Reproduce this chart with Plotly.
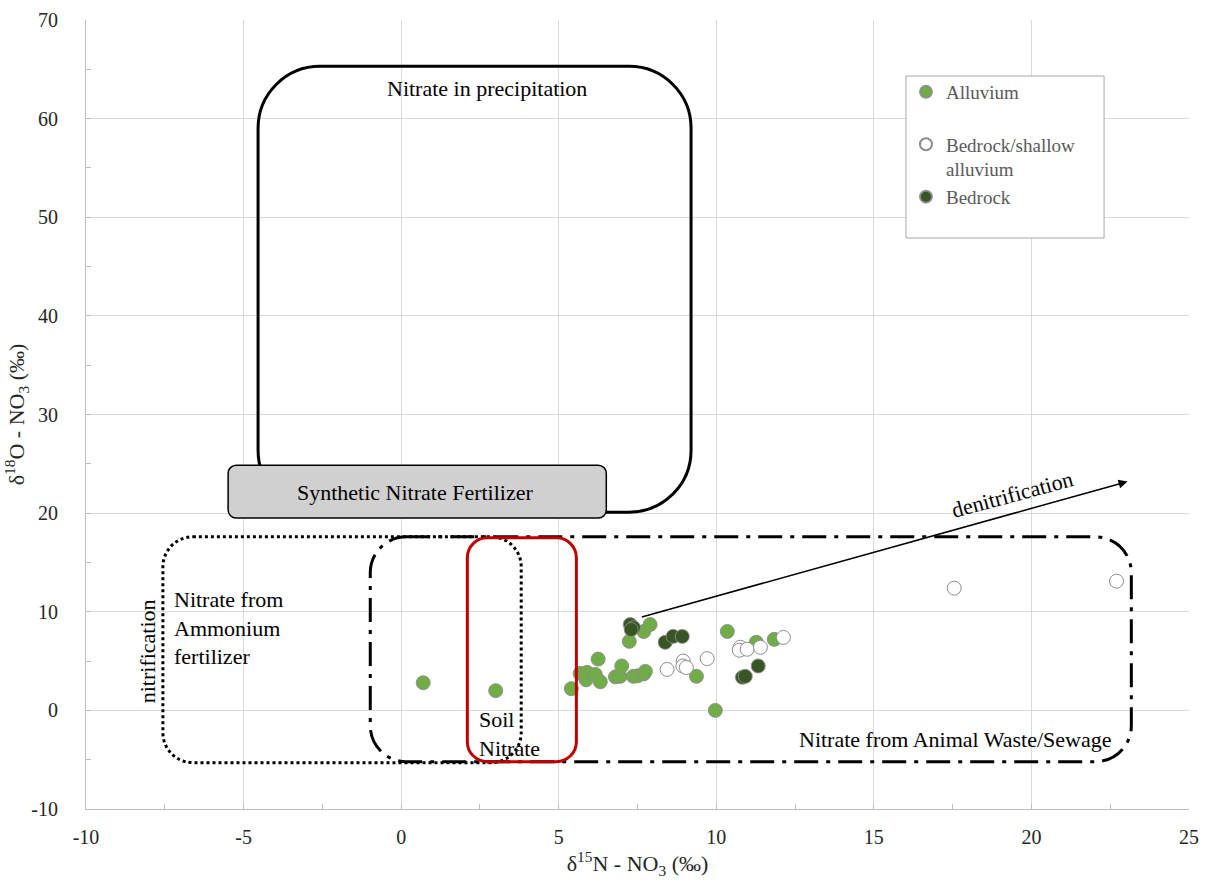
import plotly.graph_objects as go

# ---- sample data: delta15N / delta18O of nitrate (permil) ----
alluvium_n = [0.7, 3.0, 5.4, 5.68, 5.87, 5.9, 6.16, 6.25, 6.32, 6.8, 6.95, 7.0, 7.24,
              7.37, 7.5, 7.7, 7.75, 7.7, 7.9, 9.37, 9.97, 10.35, 11.27, 11.84]
alluvium_o = [2.8, 2.0, 2.2, 3.75, 3.1, 3.85, 3.65, 5.2, 2.9, 3.4, 3.45, 4.5, 7.0,
              3.45, 3.5, 3.7, 3.95, 8.0, 8.7, 3.45, 0.0, 8.0, 6.9, 7.2]

shallow_n = [8.44, 8.95, 8.94, 9.05, 9.71, 10.76, 10.73, 10.98, 11.4, 12.13, 17.55, 22.7]
shallow_o = [4.15, 5.0, 4.5, 4.35, 5.25, 6.4, 6.1, 6.2, 6.4, 7.4, 12.4, 13.1]

bedrock_n = [7.27, 7.37, 7.3, 8.38, 8.63, 8.92, 10.83, 10.92, 11.33]
bedrock_o = [8.7, 8.4, 8.2, 6.9, 7.5, 7.5, 3.35, 3.45, 4.5]

# ---- axis ticks ----
x_tickvals = [-10, -5, 0, 5, 10, 15, 20, 25]
x_ticktext = ["-10", "-5", "0", "5", "10", "15", "20", "25"]
y_tickvals = [-10, 0, 10, 20, 30, 40, 50, 60, 70]
y_ticktext = ["-10", "0", "10", "20", "30", "40", "50", "60", "70"]

# ---- source-field outlines: (x0, x1, y0, y1) in permil ----
precip_box = (-4.54, 9.2, 20.1, 65.3)
synthetic_box = (-5.49, 6.51, 19.5, 24.85)
ammonium_box = (-7.56, 3.81, -5.3, 17.6)
sewage_box = (-0.98, 23.17, -5.2, 17.6)
soil_box = (2.1, 5.56, -5.2, 17.5)
denit_start = (7.59, 9.43)
denit_end = (23.05, 23.2)

X_RANGE = [-10, 25]
Y_RANGE = [-10, 70]

W, H = 1208, 880
M_L, M_R, M_T, M_B = 86, 19, 20, 71
PX_X = (W - M_L - M_R) / (X_RANGE[1] - X_RANGE[0])
PX_Y = (H - M_T - M_B) / (Y_RANGE[1] - Y_RANGE[0])

SERIF = "Liberation Serif, Times New Roman, serif"


def rounded_rect(box, r_px):
    """SVG path for a rectangle whose corners have a radius of r_px screen pixels."""
    x0, x1, y0, y1 = box
    rx, ry = r_px / PX_X, r_px / PX_Y
    k = 0.5523
    return (
        f"M {x0+rx},{y1} L {x1-rx},{y1} "
        f"C {x1-rx+k*rx},{y1} {x1},{y1-ry+k*ry} {x1},{y1-ry} "
        f"L {x1},{y0+ry} "
        f"C {x1},{y0+ry-k*ry} {x1-rx+k*rx},{y0} {x1-rx},{y0} "
        f"L {x0+rx},{y0} "
        f"C {x0+rx-k*rx},{y0} {x0},{y0+ry-k*ry} {x0},{y0+ry} "
        f"L {x0},{y1-ry} "
        f"C {x0},{y1-ry+k*ry} {x0+rx-k*rx},{y1} {x0+rx},{y1} Z"
    )


fig = go.Figure()

fig.add_trace(go.Scatter(
    x=alluvium_n, y=alluvium_o, mode="markers", name="Alluvium<br>\u00a0",
    marker=dict(size=14, color="#70AD47", line=dict(color="rgba(140,140,140,0.9)", width=1)),
))
fig.add_trace(go.Scatter(
    x=shallow_n, y=shallow_o, mode="markers", name="Bedrock/shallow<br>alluvium",
    marker=dict(size=14, color="#FFFFFF", line=dict(color="#8C8C8C", width=1)),
))
fig.add_trace(go.Scatter(
    x=bedrock_n, y=bedrock_o, mode="markers", name="Bedrock",
    marker=dict(size=14, color="#375623", line=dict(color="rgba(140,140,140,0.9)", width=1)),
))

shapes = [
    dict(type="path", path=rounded_rect(ammonium_box, 30), xref="x", yref="y",
         line=dict(color="black", width=3, dash="dot"), layer="above"),
    dict(type="path", path=rounded_rect(sewage_box, 36), xref="x", yref="y",
         line=dict(color="black", width=3, dash="24px,8px,4px,8px"), layer="above"),
    dict(type="path", path=rounded_rect(soil_box, 20), xref="x", yref="y",
         line=dict(color="#C00000", width=3), layer="above"),
    dict(type="path", path=rounded_rect(precip_box, 62), xref="x", yref="y",
         line=dict(color="black", width=3), layer="above"),
    dict(type="path", path=rounded_rect(synthetic_box, 8), xref="x", yref="y",
         line=dict(color="black", width=1.5), fillcolor="#D0D0D0", layer="above"),
    # legend frame
    dict(type="rect", xref="paper", yref="paper", x0=0.7434, x1=0.9230, y0=0.7237, y1=0.9290,
         line=dict(color="#A6A6A6", width=1), fillcolor="white", layer="above"),
]

text_font = dict(family=SERIF, size=22, color="black")
annotations = [
    dict(x=2.73, y=63.1, text="Nitrate in precipitation", showarrow=False, font=text_font),
    dict(x=0.44, y=22.1, text="Synthetic Nitrate Fertilizer", showarrow=False, font=text_font),
    dict(x=-7.27, y=8.4, text="Nitrate from<br>Ammonium<br>fertilizer", showarrow=False,
         xanchor="left", align="left", font=text_font),
    dict(x=-8.06, y=6.0, text="nitrification", showarrow=False, textangle=-90, font=text_font),
    dict(x=2.41, y=-2.43, text="Soil<br>Nitrate", showarrow=False, xanchor="left",
         align="left", font=text_font),
    dict(x=17.59, y=-2.94, text="Nitrate from Animal Waste/Sewage", showarrow=False, font=text_font),
    dict(x=19.4, y=21.9, text="denitrification", showarrow=False, textangle=-15, font=text_font),
    dict(x=denit_end[0], y=denit_end[1], ax=denit_start[0], ay=denit_start[1],
         xref="x", yref="y", axref="x", ayref="y", text="", showarrow=True,
         arrowhead=2, arrowsize=1.2, arrowwidth=1.5, arrowcolor="black"),
]

axis_common = dict(
    showgrid=True, gridcolor="#D9D9D9", gridwidth=1, zeroline=False,
    showline=True, linecolor="#BFBFBF", linewidth=1,
    ticks="inside", ticklen=5, tickcolor="#BFBFBF",
    tickfont=dict(family=SERIF, size=20, color="#262626"),
    automargin=False,
)

fig.update_layout(
    width=W, height=H,
    margin=dict(l=M_L, r=M_R, t=M_T, b=M_B),
    paper_bgcolor="white", plot_bgcolor="white",
    shapes=shapes, annotations=annotations,
    xaxis=dict(range=X_RANGE, tickmode="array", tickvals=x_tickvals, ticktext=x_ticktext,
               ticklabelstandoff=10, **axis_common,
               minor=dict(dtick=2.5, ticks="inside", ticklen=5, tickcolor="#BFBFBF", showgrid=False),
               title=dict(text="\u03b4<sup>15</sup>N - NO<sub>3</sub> (\u2030)",
                          font=dict(family=SERIF, size=22, color="#262626"), standoff=2)),
    yaxis=dict(range=Y_RANGE, tickmode="array", tickvals=y_tickvals, ticktext=y_ticktext,
               ticklabelstandoff=23, **axis_common,
               minor=dict(dtick=5, ticks="inside", ticklen=5, tickcolor="#BFBFBF", showgrid=False),
               title=dict(text="\u03b4<sup>18</sup>O - NO<sub>3</sub> (\u2030)",
                          font=dict(family=SERIF, size=22, color="#262626"), standoff=0)),
    legend=dict(x=0.7434, y=0.9328, xanchor="left", yanchor="top",
                bgcolor="rgba(0,0,0,0)", borderwidth=0, itemsizing="constant",
                valign="top", tracegroupgap=0,
                font=dict(family=SERIF, size=19, color="#595959")),
)

fig.write_html("out.html")
